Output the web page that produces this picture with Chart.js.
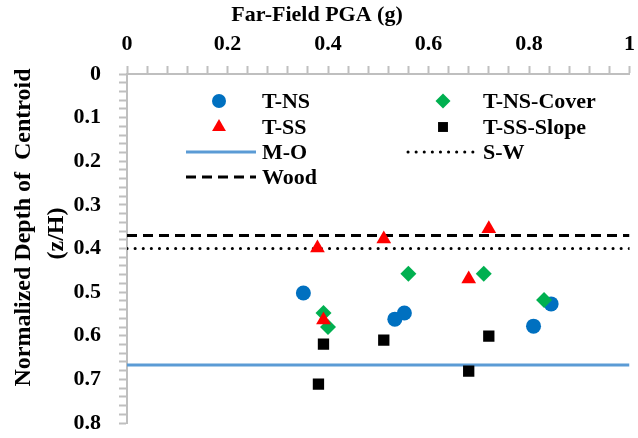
<!DOCTYPE html>
<html>
<head>
<meta charset="utf-8">
<script src="https://cdn.jsdelivr.net/npm/chart.js@4/dist/chart.umd.min.js"></script>
<style>
  body { margin: 0; background: #fff; }
  #wrap { width: 638px; height: 438px; position: relative; }
</style>
</head>
<body>
<div id="wrap"><canvas id="pga-chart"></canvas></div>
<script>
// Data (x = far-field PGA in g, y = z/H)
const tnsX = [0.351, 0.533, 0.552, 0.809, 0.844];
const tnsY = [0.502, 0.562, 0.548, 0.578, 0.527];

const tssX = [0.379, 0.511, 0.720, 0.391, 0.680];
const tssY = [0.399, 0.378, 0.355, 0.564, 0.470];

const coverX = [0.560, 0.710, 0.391, 0.400, 0.830];
const coverY = [0.458, 0.458, 0.548, 0.580, 0.518];

const slopeX = [0.391, 0.511, 0.720, 0.381, 0.680];
const slopeY = [0.619, 0.610, 0.601, 0.711, 0.681];

// reference lines, spanning the whole x range
const lineX = [0, 1];
const moY = 0.667;
const swY = 0.40;
const woodY = 0.37;

const xTickMajor = 0.2;
const yTickMajor = 0.1;

const FONT = '"Liberation Serif", "Times New Roman", serif';
const AXIS_GRAY = '#bfbfbf';

const pts = (xs, ys) => xs.map((x, i) => ({ x: x, y: ys[i] }));
const flat = (y) => lineX.map(x => ({ x: x, y: y }));

function isMajor(v, step) {
    return Math.abs(v / step - Math.round(v / step)) < 1e-6;
}
function fmt(v) {
    return String(Number(v.toFixed(2)));
}

// legend drawn inside the plot, two columns like the original
const legendSlots = [
    { ds: 0, x: 219, y: 101, tx: 262 },
    { ds: 2, x: 443, y: 101, tx: 483 },
    { ds: 1, x: 219, y: 127, tx: 262 },
    { ds: 3, x: 443, y: 127, tx: 483 },
    { ds: 4, x: 186, x2: 256, y: 152, tx: 262 },
    { ds: 5, x: 408, x2: 475, y: 152, tx: 483 },
    { ds: 6, x: 186, x2: 256, y: 177, tx: 262 }
];

const insideLegend = {
    id: 'insideLegend',
    afterDraw(chart) {
        const ctx = chart.ctx;
        ctx.save();
        legendSlots.forEach(s => {
            const ds = chart.data.datasets[s.ds];
            if (s.x2) {
                ctx.beginPath();
                ctx.strokeStyle = ds.borderColor;
                ctx.lineWidth = ds.borderWidth;
                ctx.lineCap = ds.borderCapStyle || 'butt';
                ctx.setLineDash(ds.borderDash || []);
                ctx.moveTo(s.x, s.y);
                ctx.lineTo(s.x2, s.y);
                ctx.stroke();
                ctx.setLineDash([]);
            } else {
                ctx.fillStyle = ds.backgroundColor;
                ctx.strokeStyle = ds.backgroundColor;
                Chart.helpers.drawPoint(ctx, {
                    pointStyle: ds.pointStyle,
                    radius: ds.legendRadius,
                    rotation: 0,
                    borderWidth: 0
                }, s.x, s.y);
            }
            ctx.fillStyle = '#000';
            ctx.font = 'bold 22px ' + FONT;
            ctx.textAlign = 'left';
            ctx.textBaseline = 'middle';
            ctx.fillText(ds.label, s.tx, s.y + 1);
        });
        ctx.restore();
    }
};

const ctx = document.getElementById('pga-chart').getContext('2d');

new Chart(ctx, {
    type: 'scatter',
    data: {
        datasets: [
            {
                label: 'T-NS', data: pts(tnsX, tnsY), order: 4,
                pointStyle: 'circle', pointRadius: 7.5, legendRadius: 7,
                backgroundColor: '#0070C0', borderColor: '#0070C0', borderWidth: 0
            },
            {
                label: 'T-SS', data: pts(tssX, tssY), order: 2,
                pointStyle: 'triangle', pointRadius: 8.5, legendRadius: 8,
                backgroundColor: '#FF0000', borderColor: '#FF0000', borderWidth: 0
            },
            {
                label: 'T-NS-Cover', data: pts(coverX, coverY), order: 3,
                pointStyle: 'rectRot', pointRadius: 8, legendRadius: 7.5,
                backgroundColor: '#00B050', borderColor: '#00B050', borderWidth: 0
            },
            {
                label: 'T-SS-Slope', data: pts(slopeX, slopeY), order: 1,
                pointStyle: 'rect', pointRadius: 8, legendRadius: 7,
                backgroundColor: '#000000', borderColor: '#000000', borderWidth: 0
            },
            {
                label: 'M-O', data: flat(moY), order: 5, showLine: true,
                pointRadius: 0, borderColor: '#5B9BD5', borderWidth: 3
            },
            {
                label: 'S-W', data: flat(swY), order: 5, showLine: true,
                pointRadius: 0, borderColor: '#000000', borderWidth: 3,
                borderDash: [0.1, 8], borderCapStyle: 'round'
            },
            {
                label: 'Wood', data: flat(woodY), order: 5, showLine: true,
                pointRadius: 0, borderColor: '#000000', borderWidth: 3,
                borderDash: [10, 6]
            }
        ]
    },
    options: {
        responsive: true,
        maintainAspectRatio: false,
        animation: false,
        layout: { padding: { right: 4, bottom: 15 } },
        plugins: {
            legend: { display: false },
            tooltip: { enabled: false },
            // x-axis title: in the original it sits centred on the whole figure
            title: {
                display: true,
                text: 'Far-Field PGA (g)',
                color: '#000',
                font: { family: FONT, size: 22, weight: 'bold', lineHeight: 1.2 },
                padding: { top: 2, bottom: 0 }
            }
        },
        scales: {
            x: {
                type: 'linear',
                position: 'top',
                min: 0,
                max: 1,
                afterFit(scale) {
                    scale.height = 74 - 28.4;
                    scale.paddingLeft = 0;
                    scale.paddingRight = 0;
                },
                ticks: {
                    stepSize: 0.04,
                    maxTicksLimit: 100,
                    autoSkip: false,
                    maxRotation: 0,
                    padding: 8,
                    color: '#000',
                    font: { family: FONT, size: 22, weight: 'bold' },
                    callback: v => isMajor(v, xTickMajor) ? fmt(v) : ''
                },
                grid: {
                    drawOnChartArea: false,
                    tickLength: 8,
                    color: AXIS_GRAY,
                    tickColor: AXIS_GRAY,
                    tickWidth: 2
                },
                border: { color: AXIS_GRAY, width: 2 }
            },
            y: {
                type: 'linear',
                reverse: true,
                min: 0,
                max: 0.8,
                afterFit(scale) {
                    scale.width = 127;
                    scale.paddingTop = 0;
                    scale.paddingBottom = 0;
                },
                title: {
                    display: true,
                    text: ['       Normalized Depth of  Centroid', '     (z/H)'],
                    color: '#000',
                    font: { family: FONT, size: 24, weight: 'bold', lineHeight: 1.38 },
                    padding: { top: 7, bottom: 0 }
                },
                ticks: {
                    stepSize: 0.02,
                    maxTicksLimit: 100,
                    autoSkip: false,
                    padding: 18,
                    color: '#000',
                    font: { family: FONT, size: 22, weight: 'bold' },
                    callback: v => isMajor(v, yTickMajor) ? fmt(v) : ''
                },
                grid: {
                    drawOnChartArea: false,
                    tickLength: 8,
                    color: AXIS_GRAY,
                    tickColor: AXIS_GRAY,
                    tickWidth: 2
                },
                border: { color: AXIS_GRAY, width: 2 }
            }
        }
    },
    plugins: [insideLegend]
});
</script>
</body>
</html>
